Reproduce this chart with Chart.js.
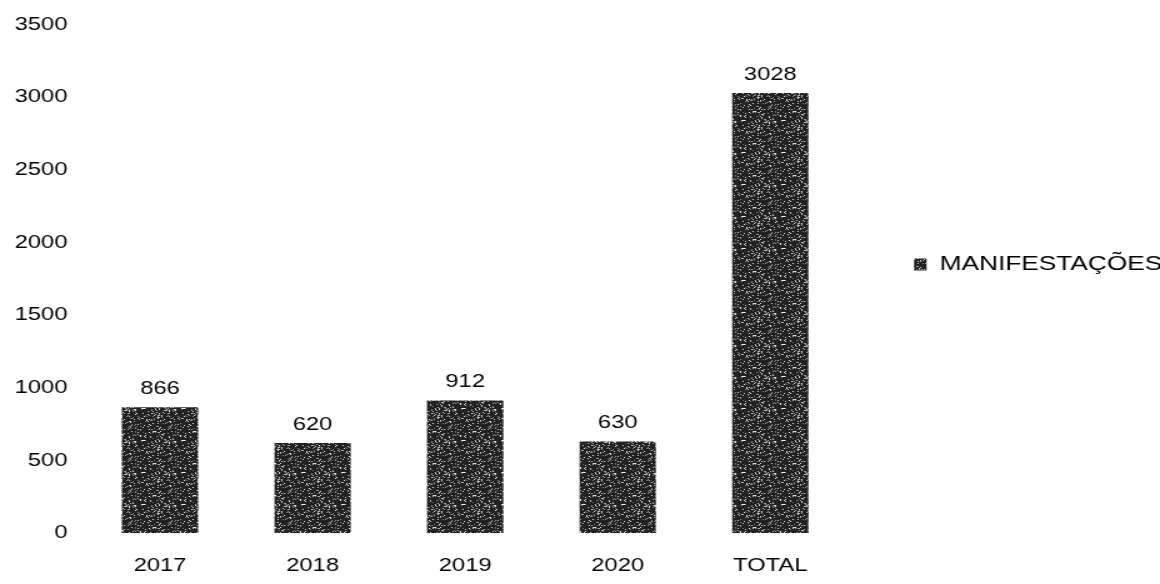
<!DOCTYPE html>
<html>
<head>
<meta charset="utf-8">
<script src="https://cdn.jsdelivr.net/npm/chart.js@4/dist/chart.umd.min.js"></script>
<style>
  html, body { margin: 0; padding: 0; background: #fff; overflow: hidden; }
  /* drawn narrow, shown wide */
  #quadro { width: 928px; height: 584px; transform: scaleX(1.25); transform-origin: 0 0; }
  #manif { display: block; }
</style>
</head>
<body>
<div id="quadro"><canvas id="manif" width="928" height="584"></canvas></div>
<script>
var anos = ["2017", "2018", "2019", "2020", "TOTAL"];
var manifestacoes = [866, 620, 912, 630, 3028];
var yTicks = [0, 500, 1000, 1500, 2000, 2500, 3000, 3500];

var fonte = "'Liberation Sans', Arial, sans-serif";

// speckled dark fill for the bars
function textura() {
    var n = 32;
    var c = document.createElement('canvas');
    c.width = n; c.height = n;
    var g = c.getContext('2d');
    g.fillStyle = '#222';
    g.fillRect(0, 0, n, n);
    var s = 2463534242;
    function prox() {
        s ^= s << 13; s >>>= 0;
        s ^= s >>> 17;
        s ^= s << 5; s >>>= 0;
        return s;
    }
    for (var i = 0; i < 200; i++) {
        var x = prox() % n;
        var y = prox() % n;
        var v = 100 + prox() % 140;
        g.fillStyle = 'rgb(' + v + ',' + v + ',' + v + ')';
        g.fillRect(x, y, 1, 1);
    }
    return document.getElementById('manif').getContext('2d').createPattern(c, 'repeat');
}

// value written above each bar
var rotulos = {
    id: 'rotulos',
    afterDatasetsDraw: function(chart) {
        var ctx = chart.ctx;
        var meta = chart.getDatasetMeta(0);
        ctx.save();
        ctx.font = '19px ' + fonte;
        ctx.fillStyle = '#000';
        ctx.textAlign = 'center';
        ctx.textBaseline = 'bottom';
        meta.data.forEach(function(bar, i) {
            ctx.fillText(String(chart.data.datasets[0].data[i]), bar.x, bar.y - 9);
        });
        ctx.restore();
    }
};

// let the legend run to the canvas edge so its text is not clipped
var legendaLarga = {
    id: 'legendaLarga',
    afterLayout: function(chart) {
        chart.legend.right = chart.width;
        chart.legend.width = chart.legend.right - chart.legend.left;
    }
};

var ctx = document.getElementById("manif").getContext('2d');
var grafico = new Chart(ctx, {
    type: 'bar',
    data: {
        labels: anos,
        datasets: [{
            label: "MANIFESTAÇÕES",
            data: manifestacoes,
            backgroundColor: textura(),
            borderWidth: 0,
            barPercentage: 0.5,
            categoryPercentage: 1.0
        }]
    },
    options: {
        responsive: false,
        animation: false,
        devicePixelRatio: 1,
        layout: {
            padding: { top: 22, left: 0, right: 25, bottom: 6 }
        },
        plugins: {
            legend: {
                position: 'right',
                align: 'start',
                title: {
                    display: true,
                    text: ' ',
                    font: { size: 10 },
                    padding: { top: 0, bottom: 166 }
                },
                labels: {
                    color: '#000',
                    font: { family: fonte, size: 21 },
                    boxWidth: 10,
                    boxHeight: 12,
                    padding: 54
                }
            },
            tooltip: { enabled: false }
        },
        scales: {
            x: {
                grid: { display: false, drawTicks: false },
                border: { display: false },
                afterFit: function(scale) { scale.height = 45; },
                ticks: {
                    color: '#000',
                    font: { family: fonte, size: 19 },
                    padding: 21,
                    maxRotation: 0
                }
            },
            y: {
                min: 0,
                max: 3500,
                grid: { display: false, drawTicks: false },
                border: { display: false },
                afterBuildTicks: function(scale) {
                    scale.ticks = yTicks.map(function(v) { return { value: v }; });
                },
                afterFit: function(scale) { scale.width = 67; },
                ticks: {
                    color: '#000',
                    font: { family: fonte, size: 19 },
                    padding: 13,
                    callback: function(v) { return String(v); }
                }
            }
        }
    },
    plugins: [rotulos, legendaLarga]
});
</script>
</body>
</html>
